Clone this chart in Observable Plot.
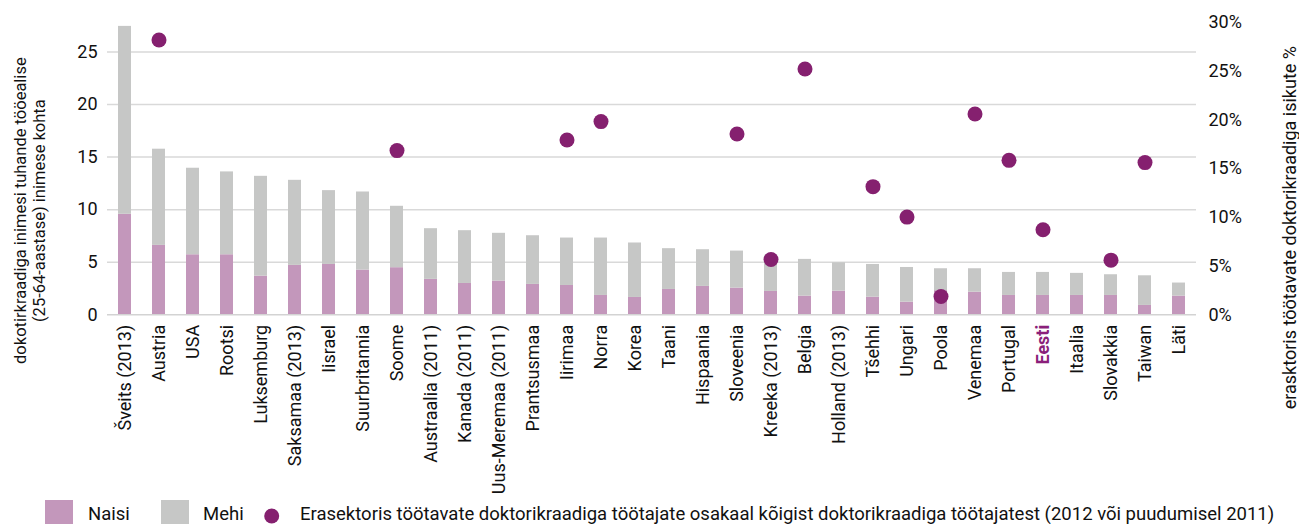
<!DOCTYPE html>
<html><head><meta charset="utf-8">
<script src="https://cdn.jsdelivr.net/npm/d3@7"></script>
<script src="https://cdn.jsdelivr.net/npm/@observablehq/plot@0.6"></script>
<style>
body{margin:0;background:#fff;font-family:Roboto,sans-serif}
#legend{display:block}
</style>
</head><body><div id="chart"></div>
<script>
const countries = ["Šveits (2013)","Austria","USA","Rootsi","Luksemburg","Saksamaa (2013)","Iisrael","Suurbritannia","Soome","Austraalia (2011)","Kanada (2011)","Uus-Meremaa (2011)","Prantsusmaa","Iirimaa","Norra","Korea","Taani","Hispaania","Sloveenia","Kreeka (2013)","Belgia","Holland (2013)","Tšehhi","Ungari","Poola","Venemaa","Portugal","Eesti","Itaalia","Slovakkia","Taiwan","Läti"];
const naisi = [9.56,6.6,5.71,5.71,3.68,4.7,4.79,4.25,4.48,3.37,2.98,3.21,2.89,2.79,1.84,1.65,2.41,2.7,2.54,2.22,1.78,2.25,1.68,1.2,2.3,2.15,1.84,1.84,1.84,1.84,0.89,1.78];
const mehi = [17.87,9.15,8.23,7.88,9.49,8.09,7.02,7.43,5.84,4.82,5.02,4.54,4.63,4.51,5.46,5.18,3.88,3.49,3.52,3.38,3.49,2.7,3.11,3.3,2.08,2.23,2.19,2.19,2.1,1.97,2.82,1.24];
const erasektor = [null,28.2,null,null,null,null,null,null,16.85,null,null,null,null,17.94,19.83,null,null,null,18.56,5.68,25.23,null,13.15,10.03,1.88,20.61,15.85,8.73,null,5.61,15.62,null];
const leftTicks = [0,5,10,15,20,25];
const rightTicks = [0,5,10,15,20,25,30];
const seriesNames = ["Naisi","Mehi"];
const dotName = "Erasektoris töötavate doktorikraadiga töötajate osakaal kõigist doktorikraadiga töötajatest (2012 või puudumisel 2011)";
const leftTitle = "dokotirkraadiga inimesi tuhande tööealise\n(25-64-aastase) inimese kohta";
const rightTitle = "erasktoris töötavate doktorikraadiga isikute %";
const highlight = "Eesti";

const leftMax = 27.8, rightMax = 30;
const k = leftMax / rightMax;
const colNaisi = "#c397bb", colMehi = "#c6c7c6", colDot = "#85206f", colHi = "#8a1f7a";

const bars = countries.flatMap((c, i) => [
  {country: c, sex: "Naisi", value: naisi[i]},
  {country: c, sex: "Mehi", value: mehi[i]}
]);
const dots = countries.map((c, i) => ({country: c, pct: erasektor[i]})).filter(d => d.pct != null);

const H = 500;
const plot = Plot.plot({
  width: 1299, height: H,
  marginTop: 22, marginBottom: H - 314.3, marginLeft: 107, marginRight: 103,
  style: {fontFamily: "Roboto, sans-serif", fontSize: "16px", background: "#fff", color: "#111"},
  x: {domain: countries, paddingInner: 0.62, paddingOuter: 0.29, axis: null},
  y: {domain: [0, leftMax], axis: null},
  color: {domain: seriesNames, range: [colNaisi, colMehi]},
  marks: [
    Plot.gridY(leftTicks.slice(1), {stroke: "#d9d9d9", strokeOpacity: 1, strokeWidth: 1.5}),
    Plot.barY(bars, {x: "country", y: "value", fill: "sex", order: seriesNames}),
    Plot.ruleY([0], {stroke: "#d3d3d3", strokeWidth: 1.5}),
    Plot.dot(dots, {x: "country", y: d => d.pct * k, r: 7.5, fill: colDot}),
    Plot.axisY(leftTicks, {anchor: "left", tickSize: 0, tickPadding: 10, fontSize: 18, label: null}),
    Plot.axisY(rightTicks.map(p => p * k), {anchor: "right", tickSize: 0, tickPadding: 12, fontSize: 18, tickFormat: d => Math.round(d / k) + "%", label: null}),
    Plot.axisX({anchor: "bottom", tickSize: 0, tickPadding: 10, tickRotate: -90, fontSize: 18, tickFormat: d => d === highlight ? "" : d, label: null}),
    Plot.axisX([highlight], {anchor: "bottom", tickSize: 0, tickPadding: 10, tickRotate: -90, fontSize: 18, fontWeight: "bold", color: colHi, label: null}),
    Plot.text([leftTitle], {frameAnchor: "left", rotate: -90, dx: -78.5, dy: 42, fontSize: 16.5, lineHeight: 1.15, textAnchor: "middle"}),
    Plot.text([rightTitle], {frameAnchor: "right", rotate: -90, dx: 94, dy: 59, fontSize: 18, textAnchor: "middle"})
  ]
});
document.getElementById("chart").appendChild(plot);

// legend
const lg = d3.create("svg").attr("id", "legend").attr("width", 1299).attr("height", 24)
  .style("font-family", "Roboto, sans-serif").style("font-size", "18.5px").style("overflow", "visible");
const items = [
  {type: "rect", fill: colNaisi, x: 45, tx: 88, label: seriesNames[0]},
  {type: "rect", fill: colMehi, x: 161, tx: 203, label: seriesNames[1]},
  {type: "dot", fill: colDot, x: 271.7, tx: 300, label: dotName}
];
for (const it of items) {
  if (it.type === "rect") lg.append("rect").attr("x", it.x).attr("y", 0).attr("width", 28).attr("height", 24).attr("fill", it.fill);
  else lg.append("circle").attr("cx", it.x).attr("cy", 16).attr("r", 7.5).attr("fill", it.fill);
  lg.append("text").attr("x", it.tx).attr("y", 19.5).attr("fill", "#111").text(it.label);
}
document.getElementById("chart").appendChild(lg.node());
</script>
</body></html>
